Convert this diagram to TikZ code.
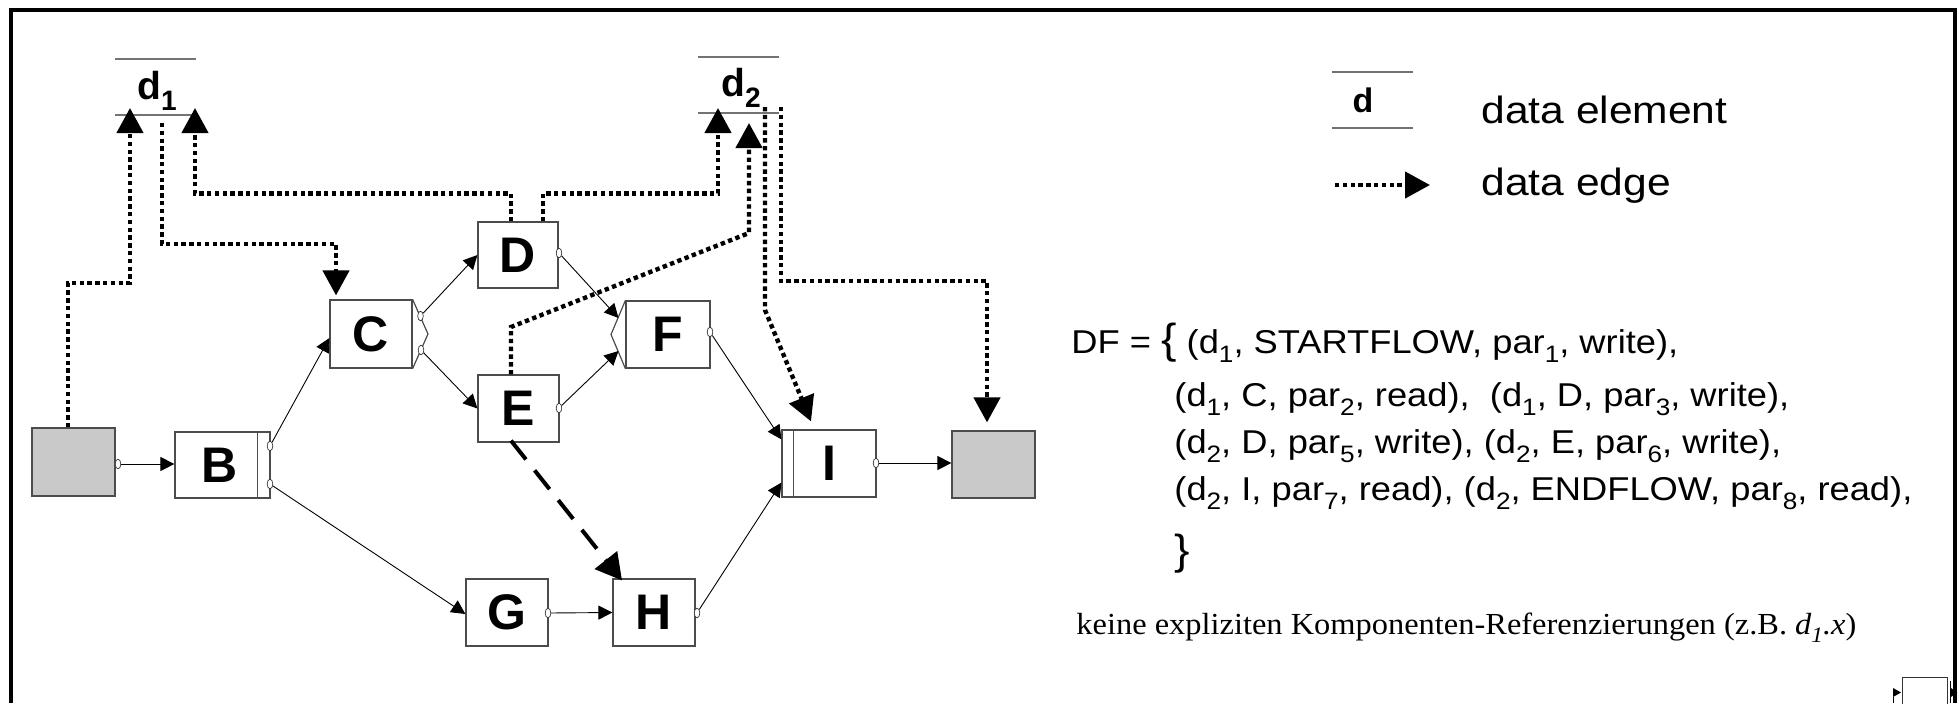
\documentclass[tikz,border=0pt]{standalone}
\usepackage{fontspec}
\setmainfont{Liberation Sans}
\newfontfamily\dffont[FakeStretch=1.1]{Liberation Sans}
\newfontfamily\legfont[FakeStretch=1.12]{Liberation Sans}
\newfontfamily\tmsfont[FakeStretch=1.06]{Liberation Serif}
\usetikzlibrary{arrows.meta,shapes.geometric}
\newcommand\sbs[1]{\raisebox{-0.28em}{\scalebox{0.72}{#1}}}
\begin{document}
\begin{tikzpicture}[x=0.5pt,y=-0.5pt,
  frame/.style={line width=2pt},
  act/.style={draw=black!70, line width=0.6pt, fill=white, inner sep=0pt,
    minimum width=41pt, minimum height=33.5pt,
    font=\fontsize{25}{25}\selectfont\bfseries},
  grayact/.style={act, fill=black!21},
  boxline/.style={draw=black!70, line width=0.6pt},
  port/.style={ellipse, draw=black!80, fill=white, line width=0.35pt, inner sep=0pt,
    minimum width=2.8pt, minimum height=4.8pt},
  ctrl/.style={line width=0.45pt, -{Triangle[length=7pt,width=7pt]}},
  dataedge/.style={line width=2.2pt, dash pattern=on 2.2pt off 1.7pt,
    -{Triangle[length=12.5pt,width=13pt]}},
  dashedge/.style={line width=2pt, dash pattern=on 12pt off 7pt,
    -{Triangle[length=13pt,width=14pt]}},
  elemline/.style={draw=black!55, line width=0.75pt},
  elabel/.style={inner sep=0pt, font=\fontsize{19.5}{19.5}\selectfont\bfseries},
  legtext/.style={anchor=base west, inner sep=0pt, font=\legfont\fontsize{19}{19}\selectfont},
  dftext/.style={anchor=base west, inner sep=0pt, font=\dffont\fontsize{16.5}{16.5}\selectfont},
  tmstext/.style={anchor=base west, inner sep=0pt, font=\tmsfont\fontsize{15.3}{15.3}\selectfont}
]
\useasboundingbox (0,0) rectangle (1959,703);

% frame
\draw[frame] (11,703) -- (11,9.5) -- (1955,9.5) -- (1955,703);

% activities
\node[grayact, minimum width=41.5pt, minimum height=34pt] (S) at (73.5,462) {};
\node[act, minimum width=47.5pt, minimum height=33pt] (B) at (222.5,465) {\hspace*{-3pt}B};
\draw[boxline] ([xshift=-6.5pt]B.north east) -- ([xshift=-6.5pt]B.south east);
\node[act, minimum height=34pt] (C) at (371,334) {C};
\draw[boxline] (C.north east) -- (428,334) -- (C.south east);
\node[act, minimum width=40pt, minimum height=33pt] (D) at (518,255) {D};
\node[act, minimum width=40.5pt] (E) at (518.5,408.5) {E};
\node[act, minimum width=42pt] (F) at (668,334.5) {F};
\draw[boxline] (F.north west) -- (611,334.5) -- (F.south west);
\node[act] (G) at (507,612.5) {G};
\node[act] (H) at (654,612.5) {H};
\node[act, minimum width=47pt] (I) at (829,463.5) {I};
\draw[boxline] ([xshift=6pt]I.north west) -- ([xshift=6pt]I.south west);
\node[grayact, minimum width=41.5pt] (End) at (993.5,464.5) {};

% ports
\node[port] (pS) at (118,464) {};
\node[port] (pB1) at (270,446) {};
\node[port] (pB2) at (270,484) {};
\node[port] (pC1) at (420.5,316) {};
\node[port] (pC2) at (421,350) {};
\node[port] (pD) at (559,253) {};
\node[port] (pE) at (559,408) {};
\node[port] (pF) at (710,332) {};
\node[port] (pG) at (548,613) {};
\node[port] (pH) at (697,613) {};
\node[port] (pI) at (876,463) {};

\coordinate (Fj1) at (618.5,318);
\coordinate (Fj2) at (618.5,351);

% control edges
\draw[ctrl] (pS) -- (B.west |- pS);
\draw[ctrl] (pB1) -- ([yshift=-2pt]C.west);
\draw[ctrl] (pB2) -- ([yshift=-0.75pt]G.west);
\draw[ctrl] (pC1) -- (D.west);
\draw[ctrl] (pC2) -- (E.west);
\draw[ctrl] (pD) -- (Fj1);
\draw[ctrl] (pE) -- (Fj2);
\draw[ctrl] (pF) -- ([yshift=-5pt]I.north west);
\draw[ctrl] (pG) -- (H.west);
\draw[ctrl] (pH) -- ([yshift=7.5pt]I.south west);
\draw[ctrl] (pI) -- (End.west |- pI);

% sync edge
\draw[dashedge] ([xshift=-3.75pt,yshift=1pt]E.south) -- ([xshift=-16pt,yshift=-1pt]H.north);

% data elements
\draw[elemline] (115,59) -- (196,59);
\draw[elemline] (115,115) -- (193,115);
\node[elabel] (d1) at (157,91) {d\sbs{1}};
\draw[elemline] (698,57) -- (779,57);
\draw[elemline] (698,113) -- (779,113);
\node[elabel] (d2) at (741,88) {d\sbs{2}};

\coordinate (d1a) at (130,108);
\coordinate (d1b) at (195,108);
\coordinate (d1o) at (162,123);
\coordinate (d2a) at (718,108);
\coordinate (d2b) at (749,123);
\coordinate (d2o1) at (765,107);
\coordinate (d2o2) at (781,107);

% data edges
\draw[dataedge] ([xshift=-2.75pt]S.north) |- (130,283) -- (d1a);
\draw[dataedge] (d1o) |- (336,244) -- ([xshift=-17.5pt,yshift=2pt]C.north);
\draw[dataedge] ([xshift=-3.5pt]D.north) -- ++(0,-28) -| (d1b);
\draw[dataedge] ([xshift=12.5pt]D.north) -- ++(0,-28) -| (d2a);
\draw[dataedge] ([xshift=-3.75pt]E.north) -- (511,327) -- (749,233) -- (d2b);
\draw[dataedge] (d2o1) -- (765,310) -- ([xshift=-9pt,yshift=4pt]I.north);
\draw[dataedge] (d2o2) |- (987,281) -- ([xshift=-3.25pt,yshift=4pt]End.north);

% legend
\draw[elemline] (1332,72) -- (1413,72);
\draw[elemline] (1332,128) -- (1413,128);
\node[inner sep=0pt, font=\fontsize{17}{17}\selectfont\bfseries] (legd) at (1363,100) {d};
\node[legtext] (legt1) at (1481,123) {data element};
\coordinate (lga) at (1335,185);
\coordinate (lgb) at (1430,185);
\draw[dataedge] (lga) -- (lgb);
\node[legtext] (legt2) at (1481,195) {data edge};

% DF set
\node[dftext] (df1) at (1071,353) {DF = {\fontsize{21}{21}\selectfont\{} (d\sbs{1}, STARTFLOW, par\sbs{1}, write),};
\node[dftext] (df2) at (1174,406) {(d\sbs{1}, C, par\sbs{2}, read),\ \ (d\sbs{1}, D, par\sbs{3}, write),};
\node[dftext] (df3) at (1174,453) {(d\sbs{2}, D, par\sbs{5}, write), (d\sbs{2}, E, par\sbs{6}, write),};
\node[dftext] (df4) at (1174,500) {(d\sbs{2}, I, par\sbs{7}, read), (d\sbs{2}, ENDFLOW, par\sbs{8}, read),};
\node[dftext] (df5) at (1174,564) {{\fontsize{21}{21}\selectfont\}}};
\node[tmstext] (note) at (1076,634) {keine expliziten Komponenten-Referenzierungen (z.B. {\itshape d\sbs{1}.x})};

% small symbol at the lower right corner
\begin{scope}
\clip (0,0) rectangle (1959,703);
\node[draw=black!80, line width=0.5pt, minimum width=22.5pt, minimum height=20pt, inner sep=0pt] (icon) at (1924.5,697) {};
\draw[line width=0.5pt] (1950,681) -- (1950,703);
\fill (1893,688) -- (1901,692.5) -- (1893,697) -- cycle;
\draw[line width=0.5pt] (1893,697) -- (1893,703);
\fill (1951,688) -- (1957,692.5) -- (1951,697) -- cycle;
\end{scope}
\end{tikzpicture}
\end{document}
